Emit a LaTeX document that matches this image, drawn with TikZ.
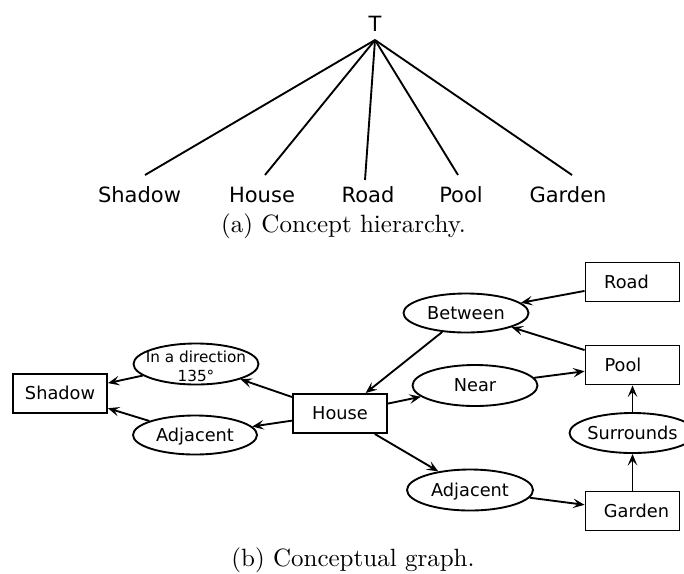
\documentclass[tikz,border=0pt]{standalone}
\usepackage{fontspec}
\newfontfamily\dvs{DejaVu Sans}
\usetikzlibrary{shapes.geometric,arrows.meta,calc}
\begin{document}
\begin{tikzpicture}[x=0.4pt,y=-0.4pt,
  lab/.style={font=\dvs\fontsize{8.4}{10}\selectfont, anchor=base, inner sep=0},
  treeline/.style={line width=0.75pt},
  box/.style={draw, line width=0.75pt, rectangle, minimum width=37.6pt, minimum height=15.6pt,
    inner sep=0, text height=5.1pt, text depth=0pt, font=\dvs\fontsize{7.1}{8.4}\selectfont},
  rel/.style={draw, line width=0.75pt, ellipse, inner sep=0, text height=5.1pt, text depth=0pt,
    font=\dvs\fontsize{7.1}{8.4}\selectfont},
  arr/.style={line width=0.75pt, -{Stealth[length=4.6pt,width=3.8pt,inset=1.9pt]}},
  captxt/.style={anchor=base, inner sep=0, font=\fontsize{10}{12}\selectfont}
]
\useasboundingbox (0,0) rectangle (684,573);
\clip (0,0) rectangle (684,573);

% ---------- (a) concept hierarchy ----------
\node[lab] (T) at (375,31) {T};
\coordinate (apex) at (375,40);
\node[lab] (lShadow) at (139.5,202) {Shadow};
\node[lab] (lHouse) at (262,202) {House};
\node[lab] (lRoad) at (368,202) {Road};
\node[lab] (lPool) at (461,202) {Pool};
\node[lab] (lGarden) at (568,202) {Garden};
\draw[treeline] (apex) -- ($(lShadow.base)+(5.5,-27)$);
\draw[treeline] (apex) -- ($(lHouse.base)+(3,-27)$);
\draw[treeline] (apex) -- ($(lRoad.base)+(-3,-22)$);
\draw[treeline] (apex) -- ($(lPool.base)+(-3,-27)$);
\draw[treeline] (apex) -- ($(lGarden.base)+(4,-27)$);
\node[captxt] (capA) at (343.5,232) {(a) Concept hierarchy.};

% ---------- (b) conceptual graph ----------
\node[box] (shadow) at (60,393.5) {\makebox[0pt]{Shadow}};
\node[box] (house) at (340,413.5) {\makebox[0pt]{House}};
\node[box] (road) at (632.5,282) {\makebox[0pt]{Road\hspace{4.8pt}}};
\node[box] (pool) at (632.5,365) {\makebox[0pt]{Pool\hspace{7.6pt}}};
\node[box] (garden) at (632.5,511) {\makebox[0pt]{\hspace{3.2pt}Garden}};

\node[rel, minimum width=50pt, minimum height=16.4pt] (dir) at (196,364)
  {\makebox[0pt]{\raisebox{-0.6pt}{\fontsize{6.1}{7.9}\selectfont\begin{tabular}{@{}c@{}}In a direction\\135°\end{tabular}}}};
\node[rel, minimum width=49.6pt, minimum height=15.6pt] (adjL) at (195,435) {\makebox[0pt]{Adjacent}};
\node[rel, minimum width=50pt, minimum height=15.6pt] (between) at (466,313) {\makebox[0pt]{Between}};
\node[rel, minimum width=50pt, minimum height=16.4pt] (near) at (475,385.5) {\makebox[0pt]{Near}};
\node[rel, minimum width=50.4pt, minimum height=16pt] (surr) at (632.5,433) {\makebox[0pt]{Surrounds}};
\node[rel, minimum width=50.4pt, minimum height=16.4pt] (adjR) at (470,490) {\makebox[0pt]{Adjacent}};

\draw[arr] (dir) -- (shadow);
\draw[arr] (adjL) -- (shadow);
\draw[arr] (house) -- (dir);
\draw[arr] (house) -- (adjL);
\draw[arr] (between) -- (house);
\draw[arr] (house) -- (near);
\draw[arr] (house) -- (adjR);
\draw[arr] (road) -- (between);
\draw[arr] (pool) -- (between);
\draw[arr] (near) -- (pool);
\draw[arr] (adjR) -- (garden);
\draw[arr] (surr) -- (pool);
\draw[arr] (garden) -- (surr);

\node[captxt] (capB) at (353,566) {(b) Conceptual graph.};
\end{tikzpicture}
\end{document}
